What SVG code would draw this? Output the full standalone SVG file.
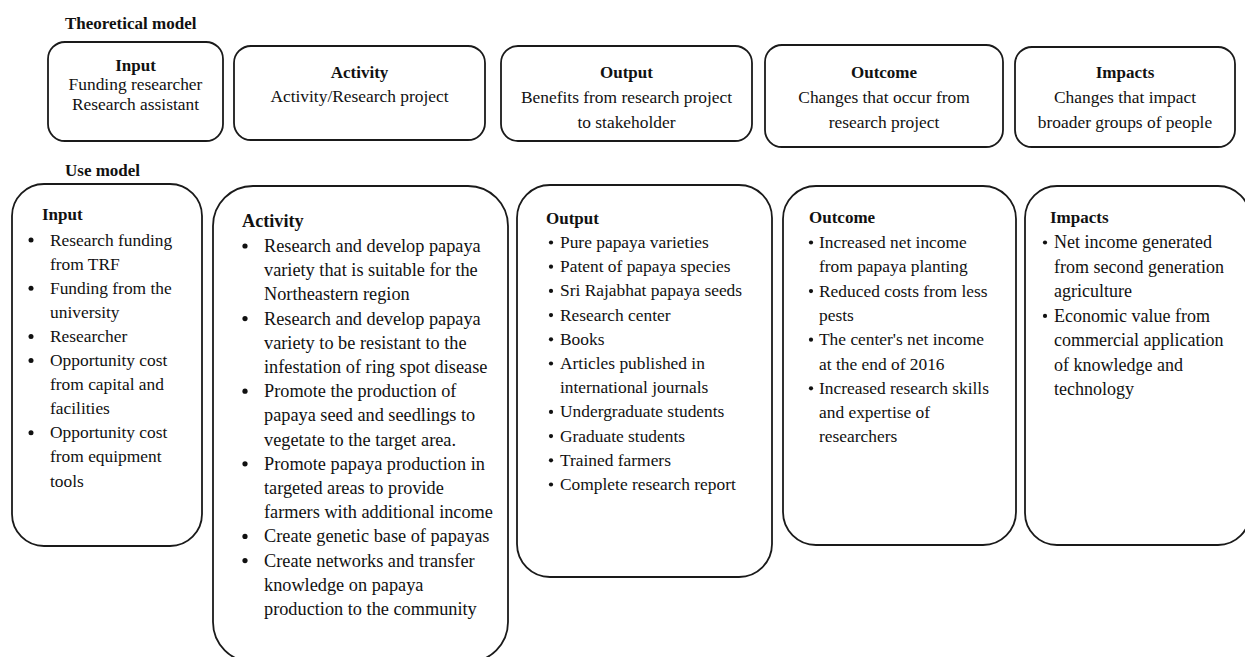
<svg xmlns="http://www.w3.org/2000/svg" width="1245" height="657" viewBox="0 0 1245 657">
  <style>
    .box { fill: #ffffff; stroke: #1a1a1a; stroke-width: 1.8; }
    .t { font-family: "Liberation Serif", "Times New Roman", serif; font-size: 17.4px; fill: #111111; }
    .h { font-weight: bold; font-size: 17px; }
    .c { text-anchor: middle; }
    .big { font-size: 18.3px; }
    .mid { font-size: 18px; }
    .bigh { font-weight: bold; font-size: 18.2px; }
    .dot { fill: #111111; }
  </style>
  <rect width="1245" height="657" fill="#ffffff"/>

  <!-- Section headings -->
  <text class="t h" x="65" y="29">Theoretical model</text>
  <text class="t h" x="65" y="176">Use model</text>

  <!-- Theoretical model row -->
  <g id="theory-input">
    <rect class="box" x="48" y="42" width="175" height="99" rx="17"/>
    <text class="t h c" x="135.5" y="71">Input</text>
    <text class="t c" x="135.5" y="90">Funding researcher</text>
    <text class="t c" x="135.5" y="109.5">Research assistant</text>
  </g>
  <g id="theory-activity">
    <rect class="box" x="234" y="46" width="251" height="94" rx="17"/>
    <text class="t h c" x="359.5" y="78">Activity</text>
    <text class="t c" x="359.5" y="102">Activity/Research project</text>
  </g>
  <g id="theory-output">
    <rect class="box" x="501" y="46" width="251" height="95" rx="17"/>
    <text class="t h c" x="626.5" y="78">Output</text>
    <text class="t c" x="626.5" y="103">Benefits from research project</text>
    <text class="t c" x="626.5" y="128">to stakeholder</text>
  </g>
  <g id="theory-outcome">
    <rect class="box" x="765" y="45" width="238" height="102" rx="17"/>
    <text class="t h c" x="884" y="78">Outcome</text>
    <text class="t c" x="884" y="103">Changes that occur from</text>
    <text class="t c" x="884" y="128">research project</text>
  </g>
  <g id="theory-impacts">
    <rect class="box" x="1015" y="47" width="220" height="100" rx="17"/>
    <text class="t h c" x="1125" y="78">Impacts</text>
    <text class="t c" x="1125" y="103">Changes that impact</text>
    <text class="t c" x="1125" y="128">broader groups of people</text>
  </g>

  <!-- Use model row -->
  <g id="use-input">
    <rect class="box" x="12" y="184" width="190" height="362" rx="32"/>
    <text class="t h" x="42" y="220">Input</text>
    <g class="dot">
      <circle cx="31" cy="240" r="2.5"/>
      <circle cx="31" cy="288.2" r="2.5"/>
      <circle cx="31" cy="336.4" r="2.5"/>
      <circle cx="31" cy="360.5" r="2.5"/>
      <circle cx="31" cy="432.8" r="2.5"/>
    </g>
    <text class="t" x="50" y="245.5">
      <tspan x="50">Research funding</tspan>
      <tspan x="50" dy="24.1">from TRF</tspan>
      <tspan x="50" dy="24.1">Funding from the</tspan>
      <tspan x="50" dy="24.1">university</tspan>
      <tspan x="50" dy="24.1">Researcher</tspan>
      <tspan x="50" dy="24.1">Opportunity cost</tspan>
      <tspan x="50" dy="24.1">from capital and</tspan>
      <tspan x="50" dy="24.1">facilities</tspan>
      <tspan x="50" dy="24.1">Opportunity cost</tspan>
      <tspan x="50" dy="24.1">from equipment</tspan>
      <tspan x="50" dy="24.1">tools</tspan>
    </text>
  </g>

  <g id="use-activity">
    <rect class="box" x="213" y="186" width="295" height="476" rx="40"/>
    <text class="t bigh" x="242" y="227">Activity</text>
    <g class="dot">
      <circle cx="245" cy="246" r="2.6"/>
      <circle cx="245" cy="318.6" r="2.6"/>
      <circle cx="245" cy="391.2" r="2.6"/>
      <circle cx="245" cy="463.8" r="2.6"/>
      <circle cx="245" cy="536.4" r="2.6"/>
      <circle cx="245" cy="560.6" r="2.6"/>
    </g>
    <text class="t big" x="264" y="252">
      <tspan x="264">Research and develop papaya</tspan>
      <tspan x="264" dy="24.2">variety that is suitable for the</tspan>
      <tspan x="264" dy="24.2">Northeastern region</tspan>
      <tspan x="264" dy="24.2">Research and develop papaya</tspan>
      <tspan x="264" dy="24.2">variety to be resistant to the</tspan>
      <tspan x="264" dy="24.2">infestation of ring spot disease</tspan>
      <tspan x="264" dy="24.2">Promote the production of</tspan>
      <tspan x="264" dy="24.2">papaya seed and seedlings to</tspan>
      <tspan x="264" dy="24.2">vegetate to the target area.</tspan>
      <tspan x="264" dy="24.2">Promote papaya production in</tspan>
      <tspan x="264" dy="24.2">targeted areas to provide</tspan>
      <tspan x="264" dy="24.2">farmers with additional income</tspan>
      <tspan x="264" dy="24.2">Create genetic base of papayas</tspan>
      <tspan x="264" dy="24.2">Create networks and transfer</tspan>
      <tspan x="264" dy="24.2">knowledge on papaya</tspan>
      <tspan x="264" dy="24.2">production to the community</tspan>
    </text>
  </g>

  <g id="use-output">
    <rect class="box" x="517" y="185" width="255" height="392" rx="33"/>
    <text class="t h" x="546" y="224">Output</text>
    <g class="dot">
      <circle cx="551" cy="242.5" r="2.1"/>
      <circle cx="551" cy="266.7" r="2.1"/>
      <circle cx="551" cy="290.9" r="2.1"/>
      <circle cx="551" cy="315.1" r="2.1"/>
      <circle cx="551" cy="339.3" r="2.1"/>
      <circle cx="551" cy="363.5" r="2.1"/>
      <circle cx="551" cy="411.9" r="2.1"/>
      <circle cx="551" cy="436.1" r="2.1"/>
      <circle cx="551" cy="460.3" r="2.1"/>
      <circle cx="551" cy="484.5" r="2.1"/>
    </g>
    <text class="t" x="560" y="248">
      <tspan x="560">Pure papaya varieties</tspan>
      <tspan x="560" dy="24.2">Patent of papaya species</tspan>
      <tspan x="560" dy="24.2">Sri Rajabhat papaya seeds</tspan>
      <tspan x="560" dy="24.2">Research center</tspan>
      <tspan x="560" dy="24.2">Books</tspan>
      <tspan x="560" dy="24.2">Articles published in</tspan>
      <tspan x="560" dy="24.2">international journals</tspan>
      <tspan x="560" dy="24.2">Undergraduate students</tspan>
      <tspan x="560" dy="24.2">Graduate students</tspan>
      <tspan x="560" dy="24.2">Trained farmers</tspan>
      <tspan x="560" dy="24.2">Complete research report</tspan>
    </text>
  </g>

  <g id="use-outcome">
    <rect class="box" x="783" y="186" width="233" height="359" rx="33"/>
    <text class="t h" x="809" y="223">Outcome</text>
    <g class="dot">
      <circle cx="811" cy="242.5" r="2.1"/>
      <circle cx="811" cy="291.1" r="2.1"/>
      <circle cx="811" cy="339.7" r="2.1"/>
      <circle cx="811" cy="388.3" r="2.1"/>
    </g>
    <text class="t" x="819" y="248">
      <tspan x="819">Increased net income</tspan>
      <tspan x="819" dy="24.3">from papaya planting</tspan>
      <tspan x="819" dy="24.3">Reduced costs from less</tspan>
      <tspan x="819" dy="24.3">pests</tspan>
      <tspan x="819" dy="24.3">The center's net income</tspan>
      <tspan x="819" dy="24.3">at the end of 2016</tspan>
      <tspan x="819" dy="24.3">Increased research skills</tspan>
      <tspan x="819" dy="24.3">and expertise of</tspan>
      <tspan x="819" dy="24.3">researchers</tspan>
    </text>
  </g>

  <g id="use-impacts">
    <rect class="box" x="1025" y="186" width="225" height="359" rx="32"/>
    <text class="t h" x="1050" y="223">Impacts</text>
    <g class="dot">
      <circle cx="1045" cy="242.5" r="2.1"/>
      <circle cx="1045" cy="315.9" r="2.1"/>
    </g>
    <text class="t mid" x="1054" y="248">
      <tspan x="1054">Net income generated</tspan>
      <tspan x="1054" dy="24.5">from second generation</tspan>
      <tspan x="1054" dy="24.5">agriculture</tspan>
      <tspan x="1054" dy="24.5">Economic value from</tspan>
      <tspan x="1054" dy="24.5">commercial application</tspan>
      <tspan x="1054" dy="24.5">of knowledge and</tspan>
      <tspan x="1054" dy="24.5">technology</tspan>
    </text>
  </g>
</svg>
